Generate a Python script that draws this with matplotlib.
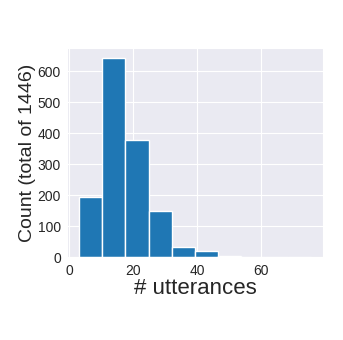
import numpy as np
import matplotlib
matplotlib.use('Agg')
import matplotlib.pyplot as plt
import seaborn as sns

# Histogram of utterances per item
bin_edges = np.linspace(3.0, 75.7, 11)
counts = [194, 642, 378, 150, 35, 22, 5, 0, 1, 1]

sns.set_style('darkgrid')
plt.rcParams['font.family'] = ['Liberation Sans', 'DejaVu Sans']

fig = plt.figure(figsize=(3.43, 3.40), dpi=100)
ax = fig.add_axes([0.196, 0.243, 0.745, 0.615])

ax.hist(bin_edges[:-1], bins=bin_edges, weights=counts, color='#1f77b4')

ax.set_xticks([0, 20, 40, 60])
ax.set_yticks([0, 100, 200, 300, 400, 500, 600])
ax.tick_params(labelsize=10, pad=1)
ax.set_xlabel('# utterances', fontsize=16, labelpad=0)
ax.set_ylabel('Count (total of 1446)', fontsize=14, labelpad=1)

fig.savefig('out.png', dpi=100)
